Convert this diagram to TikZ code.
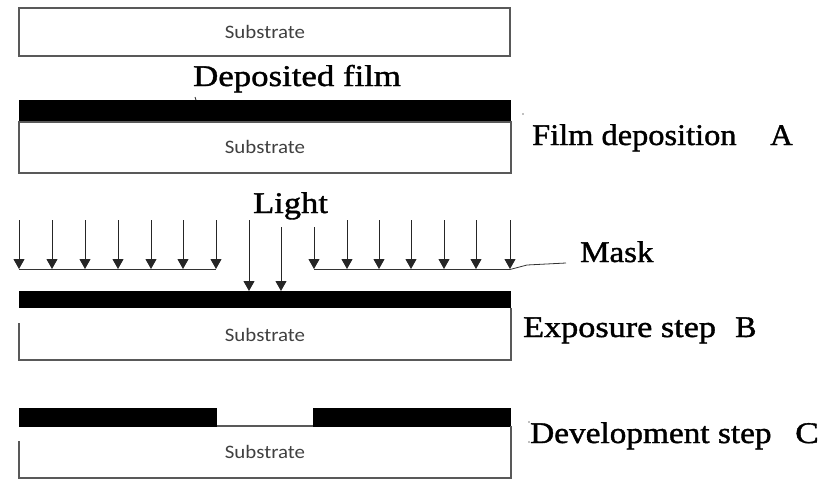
\documentclass[tikz,border=0pt]{standalone}
\usepackage{fontspec}
\setmainfont{Liberation Serif}
\newfontfamily\lblfont[FakeBold=1.2]{Liberation Serif}
\newfontfamily\subfont{Carlito}
\usetikzlibrary{arrows.meta}
\begin{document}
\begin{tikzpicture}[x=1pt,y=-1pt,
  box/.style={draw=black!65,line width=1.3pt},
  film/.style={fill=black},
  sublabel/.style={font=\subfont\fontsize{19}{19}\selectfont,text=black!75,inner sep=0pt},
  lbl/.style={font=\lblfont\fontsize{30}{30}\selectfont,inner sep=0pt,anchor=base west},
  ray/.style={draw=black!85,line width=1pt,-{Triangle[width=11pt,length=10pt]}},
  maskline/.style={draw=black!80,line width=1pt},
  lead/.style={draw=black!80,line width=0.8pt}
]
\useasboundingbox (0,0) rectangle (823,480);

% top substrate
\draw[box] (19,8) rectangle (510,56);
\node[sublabel] (s0) at (265,32) {\scalebox{1.1}[1]{Substrate}};

% A
\node[lbl] (depfilm) at (193,86) {\scalebox{1.16}[1]{Deposited film}};
\draw[lead] (195,97) -- (196,100);
\fill[film] (19,100) rectangle (511,122);
\draw[box] (19,122) rectangle (511,173);
\node[sublabel] (sA) at (265,147) {\scalebox{1.1}[1]{Substrate}};
\fill[black!50] (523,114) circle (0.8pt);
\node[lbl] (labA) at (532,145) {\scalebox{1.08}[1]{Film deposition}};
\node[lbl] (letA) at (770,145) {\scalebox{1.04}[1]{A}};

% B
\node[lbl] (light) at (253,213) {\scalebox{1.15}[1]{Light}};
\foreach \x in {19,52,85,118,151,183,216}{
  \draw[ray] (\x,220) -- (\x,269);
}
\draw[ray] (314,227) -- (314,269);
\foreach \x in {347,379,411,444,476,510}{
  \draw[ray] (\x,220) -- (\x,269);
}
\draw[ray] (249,220) -- (249,291);
\draw[ray] (281,227) -- (281,291);
\draw[maskline] (19,269.5) -- (216,269.5);
\draw[maskline] (314,269.5) -- (510,269.5);
\draw[lead] (510,269.5) -- (527,265) -- (566,263);
\node[lbl] (mask) at (580,262) {\scalebox{1.1}[1]{Mask}};
\fill[film] (19,291) rectangle (511,308);
\draw[box] (19,323) -- (19,360) -- (511,360) -- (511,308);
\node[sublabel] (sB) at (265,335) {\scalebox{1.1}[1]{Substrate}};
\node[lbl] (labB) at (523,337) {\scalebox{1.14}[1]{Exposure step}};
\node[lbl] (letB) at (735,337) {\scalebox{1.06}[1]{B}};

% C
\fill[film] (19,408) rectangle (217,427);
\fill[film] (313,408) rectangle (511,427);
\draw[box] (217,426) -- (313,426);
\draw[box] (19,441) -- (19,478) -- (511,478) -- (511,426);
\node[sublabel] (sC) at (265,452) {\scalebox{1.1}[1]{Substrate}};
\fill[black!50] (529,422) circle (0.8pt);
\fill[black!50] (529,442) circle (0.8pt);
\node[lbl] (labC) at (530,443) {\scalebox{1.11}[1]{Development step}};
\node[lbl] (letC) at (795,443) {\scalebox{1.18}[1]{C}};
\end{tikzpicture}
\end{document}
